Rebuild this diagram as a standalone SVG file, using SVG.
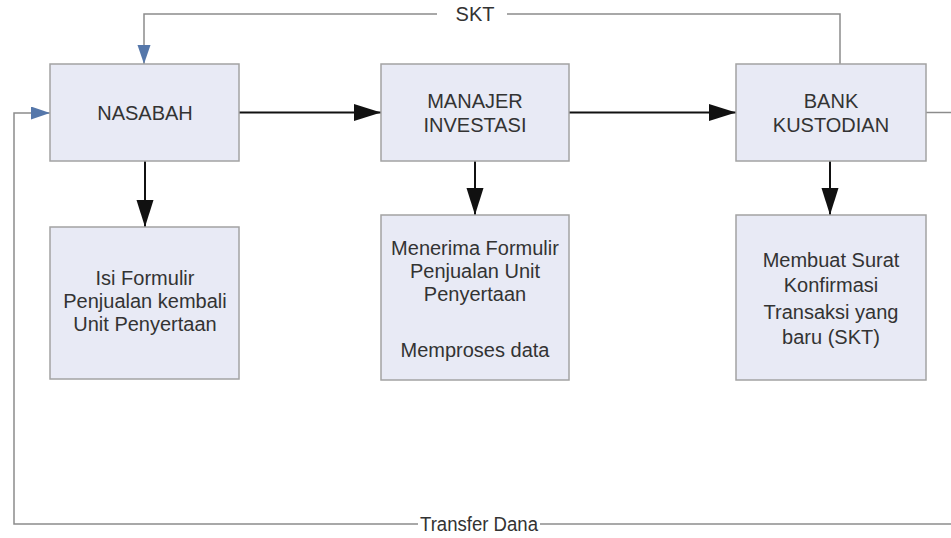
<svg xmlns="http://www.w3.org/2000/svg" width="951" height="538" viewBox="0 0 951 538">
<defs>
<style>
.box{fill:#e8eaf5;stroke:#a3a3a3;stroke-width:1.5}
.t{font-family:"Liberation Sans",Arial,sans-serif;font-size:20px;fill:#333;text-anchor:middle}
.main{stroke:#111;stroke-width:2;fill:none}
.fb{stroke:#8c8c8c;stroke-width:1.5;fill:none}
</style>
<marker id="ab" markerUnits="userSpaceOnUse" markerWidth="28" markerHeight="18" refX="27" refY="8.5" orient="auto">
<path d="M0,0 L27,8.5 L0,17 Z" fill="#111"/>
</marker>
<marker id="bb" markerUnits="userSpaceOnUse" markerWidth="20" markerHeight="14" refX="19" refY="6.5" orient="auto">
<path d="M0,0 L19,6.5 L0,13 Z" fill="#5577aa"/>
</marker>
</defs>
<rect width="951" height="538" fill="#fff"/>
<g id="connectors">
<path class="main" d="M239,112.5 H381" marker-end="url(#ab)"/>
<path class="main" d="M569,112.5 H736" marker-end="url(#ab)"/>
<path class="main" d="M145,161 V227" marker-end="url(#ab)"/>
<path class="main" d="M475,161 V215" marker-end="url(#ab)"/>
<path class="main" d="M830,161 V215" marker-end="url(#ab)"/>
<path class="fb" d="M840,64 V14 H507"/>
<path class="fb" d="M437,14 H144 V64" marker-end="url(#bb)"/>
<path class="fb" d="M926,112.5 H952"/>
<path class="fb" d="M952,524 H540"/>
<path class="fb" d="M418,524 H14 V113 H50" marker-end="url(#bb)"/>
<text class="t" x="475" y="21">SKT</text>
<text class="t" x="479" y="531" textLength="118" lengthAdjust="spacingAndGlyphs">Transfer Dana</text>
</g>
<g id="nasabah">
<rect class="box" x="50" y="64" width="189" height="97"/>
<text class="t" x="145" y="120">NASABAH</text>
</g>
<g id="manajer">
<rect class="box" x="381" y="64" width="188" height="97"/>
<text class="t" x="475" y="108">MANAJER</text>
<text class="t" x="475" y="132">INVESTASI</text>
</g>
<g id="bank">
<rect class="box" x="736" y="64" width="190" height="97"/>
<text class="t" x="831" y="108">BANK</text>
<text class="t" x="831" y="132">KUSTODIAN</text>
</g>
<g id="isi-formulir">
<rect class="box" x="50" y="227" width="189" height="152"/>
<text class="t" x="145" y="285">Isi Formulir</text>
<text class="t" x="145" y="308">Penjualan kembali</text>
<text class="t" x="145" y="331">Unit Penyertaan</text>
</g>
<g id="menerima-formulir">
<rect class="box" x="381" y="215" width="188" height="165"/>
<text class="t" x="475" y="255">Menerima Formulir</text>
<text class="t" x="475" y="278">Penjualan Unit</text>
<text class="t" x="475" y="301">Penyertaan</text>
<text class="t" x="475" y="357">Memproses data</text>
</g>
<g id="membuat-skt">
<rect class="box" x="736" y="215" width="190" height="165"/>
<text class="t" x="831" y="267">Membuat Surat</text>
<text class="t" x="831" y="292">Konfirmasi</text>
<text class="t" x="831" y="319">Transaksi yang</text>
<text class="t" x="831" y="344">baru (SKT)</text>
</g>
</svg>
